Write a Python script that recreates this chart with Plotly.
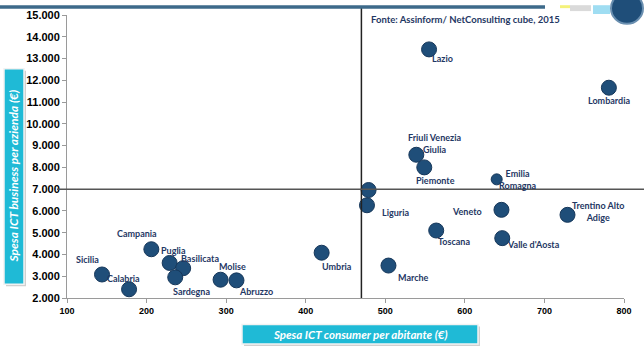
import plotly.graph_objects as go

# ---- data ----
regions = ["Lazio", "Lombardia", "Friuli Venezia<br>Giulia", "Piemonte", "Emilia<br>Romagna",
           "", "Liguria", "Veneto", "Trentino Alto<br>Adige", "Toscana", "Valle d'Aosta",
           "Marche", "Campania", "Puglia", "Basilicata", "Sicilia", "Sardegna", "Molise",
           "Abruzzo", "Calabria", "Umbria"]
consumer_spend = [555, 781, 539, 549, 640, 479, 477, 646, 729, 564, 647,
                  504, 206, 229, 246, 144, 236, 293, 313, 178, 420]
business_spend = [13420, 11660, 8580, 8000, 7450, 6960, 6260, 6050, 5820, 5100, 4750,
                  3490, 4240, 3610, 3370, 3080, 2950, 2840, 2810, 2400, 4080]
avg_consumer = 470
avg_business = 7000
x_ticks = [100, 200, 300, 400, 500, 600, 700, 800]
y_ticks = list(range(2000, 16000, 1000))

# ---- styling ----
label_offsets = {  # pixel offsets (dx right, dy down) of each label from its dot
    "Lazio": (13, 9), "Lombardia": (0, 13), "Friuli Venezia<br>Giulia": (18, -11),
    "Piemonte": (11, 13), "Emilia<br>Romagna": (21, 0), "Liguria": (29, 7),
    "Veneto": (-34, 2), "Trentino Alto<br>Adige": (30, -3), "Toscana": (18, 11),
    "Valle d'Aosta": (31, 6), "Marche": (25, 12), "Campania": (-14, -16),
    "Puglia": (4, -12), "Basilicata": (17, -10), "Sicilia": (-15, -15),
    "Sardegna": (16, 14), "Molise": (12, -13), "Abruzzo": (20, 11),
    "Calabria": (-6, -11), "Umbria": (15, 14),
}
marker_sizes = [15 if r != "Emilia<br>Romagna" else 11 for r in regions]

W, H = 644, 355
ML, MR, MT, MB = 67, 20, 9, 57
PW, PH = W - ML - MR, H - MT - MB


def px(xp):
    return (xp - ML) / PW


def py(yp):
    return (H - MB - yp) / PH


NAVY = "#1F3864"
DOT = "#1F4E79"
CYAN = "#1FBAD6"

fig = go.Figure()
fig.add_trace(go.Scatter(
    x=consumer_spend, y=business_spend, mode="markers", opacity=1,
    marker=dict(size=marker_sizes, color=DOT, opacity=1,
                line=dict(color="#16375A", width=1)),
    hoverinfo="skip", showlegend=False, cliponaxis=False,
))

annotations = []
for r, xv, yv in zip(regions, consumer_spend, business_spend):
    if not r:
        continue
    dx, dy = label_offsets[r]
    annotations.append(dict(
        x=xv, y=yv, xref="x", yref="y", text=r, showarrow=False,
        xanchor="center", yanchor="middle", xshift=dx, yshift=-dy,
        font=dict(family="Lato", size=9, color=NAVY, weight="bold"),
    ))

# source note
annotations.append(dict(
    x=px(369), y=py(14), xref="paper", yref="paper", xanchor="left", yanchor="middle",
    text="Fonte: Assinform/ NetConsulting cube, 2015", showarrow=False,
    font=dict(family="Lato", size=9.5, color=NAVY, weight="bold"),
))
# axis title boxes
annotations.append(dict(
    x=px(14), y=py(174), xref="paper", yref="paper", xanchor="center", yanchor="middle",
    text="<i>Spesa ICT business per azienda (€)</i>", showarrow=False, textangle=-90,
    font=dict(family="Lato", size=12, color="white", weight="bold"),
))
annotations.append(dict(
    x=px(360), y=py(335), xref="paper", yref="paper", xanchor="center", yanchor="middle",
    text="<i>Spesa ICT consumer per abitante (€)</i>", showarrow=False,
    font=dict(family="Lato", size=11.5, color="white", weight="bold"),
))

shapes = [
    # reference lines
    dict(type="line", xref="x", yref="paper", x0=avg_consumer, x1=avg_consumer,
         y0=0, y1=py(0), line=dict(color="#222222", width=1.5)),
    dict(type="line", xref="paper", yref="y", x0=px(57), x1=px(644),
         y0=avg_business, y1=avg_business, line=dict(color="#555555", width=1.5)),
    # y title box (shadow + box)
    dict(type="rect", xref="paper", yref="paper", x0=px(6), x1=px(26), y0=py(286), y1=py(66),
         line=dict(width=0), fillcolor="#D0D0D0", layer="below"),
    dict(type="rect", xref="paper", yref="paper", x0=px(4), x1=px(24), y0=py(284), y1=py(64),
         line=dict(width=1.5, color="#F2F2F2"), fillcolor=CYAN, layer="below"),
    # x title box
    dict(type="rect", xref="paper", yref="paper", x0=px(244), x1=px(480), y0=py(347), y1=py(327),
         line=dict(width=0), fillcolor="#D0D0D0", layer="below"),
    dict(type="rect", xref="paper", yref="paper", x0=px(242), x1=px(478), y0=py(345), y1=py(325),
         line=dict(width=1.5, color="#F2F2F2"), fillcolor=CYAN, layer="below"),
    # top decoration
    dict(type="rect", xref="paper", yref="paper", x0=px(0), x1=px(545), y0=py(2.5), y1=py(-1),
         line=dict(width=0), fillcolor="#3D6A8A"),
    dict(type="rect", xref="paper", yref="paper", x0=px(560), x1=px(570), y0=py(2), y1=py(-1),
         line=dict(width=0), fillcolor="#F4F27A"),
    dict(type="rect", xref="paper", yref="paper", x0=px(570), x1=px(591), y0=py(5), y1=py(-1),
         line=dict(width=0), fillcolor="#DADADA"),
    dict(type="rect", xref="paper", yref="paper", x0=px(593), x1=px(610), y0=py(8), y1=py(-1),
         line=dict(width=0), fillcolor="#9FDDF2"),
    dict(type="circle", xref="paper", yref="paper", x0=px(611), x1=px(643), y0=py(18), y1=py(-14),
         line=dict(width=2, color="#6A8FB0"), fillcolor="#1F4E79"),
]

fig.update_layout(
    width=W, height=H, margin=dict(l=ML, r=MR, t=MT, b=MB),
    plot_bgcolor="white", paper_bgcolor="white", separators=",.",
    annotations=annotations, shapes=shapes, showlegend=False,
    xaxis=dict(range=[100, 800], tickvals=x_ticks, showgrid=False, zeroline=False,
               showline=True, linecolor="#9A9A9A", linewidth=1, ticks="outside",
               ticklen=4, tickcolor="#9A9A9A",
               tickfont=dict(family="Liberation Sans", size=9, color="black", weight="bold")),
    yaxis=dict(range=[2000, 15000], tickvals=y_ticks, tickformat=",.0f", showgrid=False,
               zeroline=False, showline=True, linecolor="#9A9A9A", linewidth=1,
               ticks="outside", ticklen=4, tickcolor="#9A9A9A",
               tickfont=dict(family="Liberation Sans", size=11, color="black", weight="bold")),
)

fig.write_html(
    "out.html",
    config={"displayModeBar": False},
    post_script="document.body.style.margin='0';document.body.style.overflow='hidden';",
)
